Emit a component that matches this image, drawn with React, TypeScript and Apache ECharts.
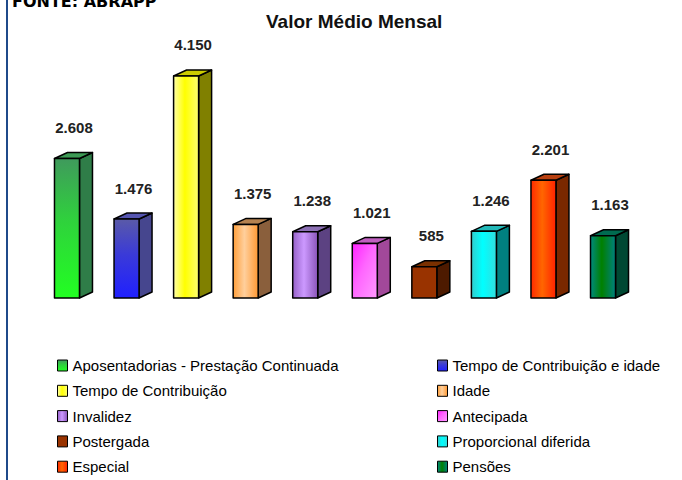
import React, { useEffect, useRef } from "react";
import * as echarts from "echarts";

const categories = [
  "Aposentadorias - Prestação Continuada",
  "Tempo de Contribuição e idade",
  "Tempo de Contribuição",
  "Idade",
  "Invalidez",
  "Antecipada",
  "Postergada",
  "Proporcional diferida",
  "Especial",
  "Pensões",
];
const values = [2608, 1476, 4150, 1375, 1238, 1021, 585, 1246, 2201, 1163];

const titleText = "Valor Médio Mensal";
const sourceText = "FONTE: ABRAPP";

// styles (front gradient stops [dir, stops], side color, top color)
type Grad = { dir: "v" | "h" | "d"; stops: string[] };
const frontStyles: Grad[] = [
  { dir: "v", stops: ["#3f9a5c", "#2fd23c", "#22ff22"] },
  { dir: "v", stops: ["#5a5aa8", "#3a3ad8", "#2020ff"] },
  { dir: "h", stops: ["#ffffa8", "#ffff00", "#ffff70"] },
  { dir: "h", stops: ["#ff9f3a", "#ffcf9c", "#ff9933"] },
  { dir: "h", stops: ["#9560c8", "#cc99ff", "#8a55b8"] },
  { dir: "d", stops: ["#ff22ff", "#ff66ff", "#ff99ff"] },
  { dir: "v", stops: ["#993300", "#993300", "#993300"] },
  { dir: "h", stops: ["#33cccc", "#00ffff", "#33dddd"] },
  { dir: "h", stops: ["#ff2a00", "#ff6600", "#ff2200"] },
  { dir: "h", stops: ["#008a80", "#008000", "#008080"] },
];
const sideColors = ["#2f7d48", "#46468e", "#808000", "#8a5f3c", "#5c4282", "#a2489a", "#4d1a00", "#008080", "#7a2800", "#004833"];
const topColors = ["#3d9a55", "#5555b0", "#cccc00", "#b58250", "#8c70b4", "#c060c0", "#7a3000", "#22b8b8", "#b84010", "#006b50"];

const fmt = (v: number) => {
  const s = String(v);
  return s.length > 3 ? s.slice(0, s.length - 3) + "." + s.slice(-3) : s;
};

const makeGrad = (g: Grad) => {
  const [x2, y2] = g.dir === "v" ? [0, 1] : g.dir === "h" ? [1, 0] : [1, 1];
  return new echarts.graphic.LinearGradient(0, 0, x2, y2, [
    { offset: 0, color: g.stops[0] },
    { offset: 0.45, color: g.stops[1] },
    { offset: 1, color: g.stops[2] },
  ]);
};

export default function App() {
  const ref = useRef<HTMLDivElement>(null);
  useEffect(() => {
    if (!ref.current) return;
    const chart = echarts.init(ref.current, undefined, { renderer: "svg" });
    const FW = 25;
    const DX = 13;
    const DY = 6;
    const series = categories.map((name, i) => ({
      type: "custom" as const,
      name,
      itemStyle: { color: makeGrad(frontStyles[i]), borderColor: "#000", borderWidth: 1 },
      data: [[i, values[i]]],
      renderItem: (params: any, api: any) => {
        const idx = api.value(0);
        const v = api.value(1);
        const base = api.coord([idx, 0]);
        const top = api.coord([idx, v]);
        const x0 = base[0] - FW / 2;
        const x1 = base[0] + FW / 2;
        const yb = base[1];
        const yt = top[1];
        const line = { stroke: "#000", lineWidth: 1.5, lineJoin: "round" };
        return {
          type: "group",
          children: [
            {
              type: "polygon",
              shape: { points: [[x1, yb], [x1 + DX, yb - DY], [x1 + DX, yt - DY], [x1, yt]] },
              style: { fill: sideColors[i], ...line },
            },
            {
              type: "polygon",
              shape: { points: [[x0, yt], [x1, yt], [x1 + DX, yt - DY], [x0 + DX, yt - DY]] },
              style: { fill: topColors[i], ...line },
            },
            {
              type: "rect",
              shape: { x: x0, y: yt, width: FW, height: yb - yt },
              style: { fill: makeGrad(frontStyles[i]), ...line },
            },
            {
              type: "text",
              x: base[0] + 7,
              y: yt - DY - 25,
              style: {
                text: fmt(v),
                align: "center",
                verticalAlign: "middle",
                fill: "#222",
                font: "bold 15px 'Liberation Sans', Arial, sans-serif",
              },
            },
          ],
        };
      },
    }));

    const legendBase = {
      orient: "vertical" as const,
      top: 358,
      height: 130,
      itemWidth: 10,
      itemHeight: 11,
      itemGap: 10.3,
      padding: 0,
      icon: "rect",
      itemStyle: { borderColor: "#000", borderWidth: 1 },
      textStyle: {
        fontFamily: "'Liberation Sans', Arial, sans-serif",
        fontSize: 15,
        lineHeight: 15,
        color: "#000",
      },
    };

    chart.setOption({
      animation: false,
      backgroundColor: "#fff",
      title: {
        text: titleText,
        left: 266,
        top: 12,
        padding: 0,
        textStyle: {
          fontFamily: "'Liberation Sans', Arial, sans-serif",
          fontWeight: "bold",
          fontSize: 19,
          color: "#111",
        },
      },
      grid: { left: 37.2, right: 49.2, top: 30.5, bottom: 182 },
      xAxis: { type: "category", data: categories, show: false },
      yAxis: { type: "value", min: 0, max: 5000, show: false, splitLine: { show: false } },
      legend: [
        { ...legendBase, left: 57, data: categories.filter((_, i) => i % 2 === 0) },
        { ...legendBase, left: 437, data: categories.filter((_, i) => i % 2 === 1) },
      ],
      graphic: [
        { type: "rect", left: 6, top: 0, shape: { width: 2, height: 480 }, style: { fill: "#1f4a8a" } },
        {
          type: "text",
          x: 12,
          y: 1,
          style: {
            text: sourceText,
            fill: "#000",
            font: "bold 16px 'DejaVu Sans', sans-serif",
            verticalAlign: "middle",
          },
        },
      ],
      series,
    });
    return () => chart.dispose();
  }, []);
  return <div ref={ref} style={{ position: "fixed", left: 0, top: 0, width: 682, height: 480 }} />;
}
